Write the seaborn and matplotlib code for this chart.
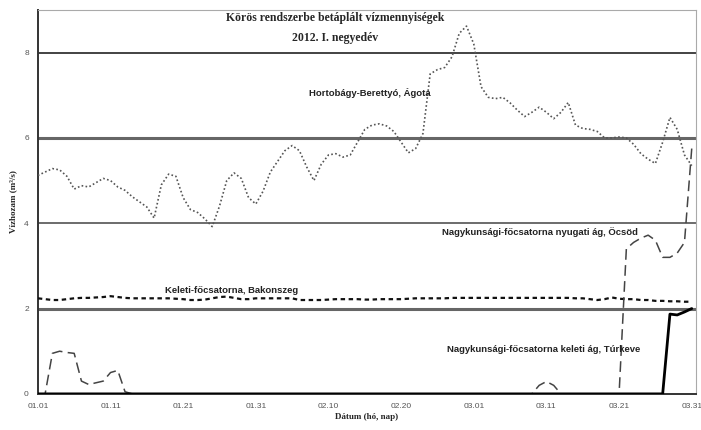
import numpy as np
import pandas as pd
import matplotlib
matplotlib.use('Agg')
import matplotlib.pyplot as plt
import seaborn as sns

# day index: 0 = 01.01, 90 = 03.31 (2012, leap year)
days = np.arange(91)
tick_days = [0, 10, 20, 30, 40, 50, 60, 70, 80, 90]
tick_labels = ['01.01', '01.11', '01.21', '01.31', '02.10', '02.20',
               '03.01', '03.11', '03.21', '03.31']

agota = [5.12, 5.2, 5.28, 5.25, 5.1, 4.8, 4.88, 4.85, 4.95, 5.05,
         5.0, 4.85, 4.77, 4.62, 4.5, 4.38, 4.12, 4.9, 5.15, 5.1,
         4.6, 4.32, 4.25, 4.1, 3.92, 4.4, 5.0, 5.18, 5.05, 4.6,
         4.45, 4.75, 5.2, 5.45, 5.7, 5.82, 5.7, 5.32, 5.0, 5.38,
         5.6, 5.63, 5.55, 5.6, 5.9, 6.2, 6.3, 6.33, 6.28, 6.15,
         5.9, 5.65, 5.75, 6.1, 7.5, 7.6, 7.65, 7.9, 8.45, 8.62,
         8.2, 7.2, 6.95, 6.92, 6.95, 6.82, 6.65, 6.5, 6.6, 6.72,
         6.6, 6.45, 6.6, 6.83, 6.3, 6.22, 6.2, 6.15, 6.0, 6.0,
         6.02, 6.0, 5.85, 5.63, 5.5, 5.4, 5.9, 6.48, 6.2, 5.6,
         5.35]

bakonszeg = [2.24, 2.22, 2.2, 2.2, 2.22, 2.24, 2.25, 2.25, 2.26, 2.27,
             2.29, 2.27, 2.25, 2.24, 2.24, 2.24, 2.24, 2.24, 2.24, 2.23,
             2.22, 2.2, 2.2, 2.21, 2.24, 2.27, 2.28, 2.25, 2.22, 2.22,
             2.24, 2.24, 2.24, 2.24, 2.24, 2.24, 2.2, 2.2, 2.2, 2.2,
             2.21, 2.22, 2.22, 2.22, 2.22, 2.21, 2.21, 2.22, 2.22, 2.22,
             2.22, 2.23, 2.24, 2.24, 2.24, 2.24, 2.24, 2.25, 2.25, 2.25,
             2.25, 2.25, 2.25, 2.25, 2.25, 2.25, 2.25, 2.25, 2.25, 2.25,
             2.25, 2.25, 2.25, 2.25, 2.24, 2.24, 2.22, 2.2, 2.22, 2.26,
             2.23, 2.22, 2.22, 2.2, 2.2, 2.18, 2.18, 2.17, 2.17, 2.16,
             2.16]

ocsod = [0, 0, 0.95, 1.0, 0.97, 0.95, 0.3, 0.22, 0.26, 0.3,
         0.5, 0.55, 0.05, 0, 0, 0, 0, 0, 0, 0,
         0, 0, 0, 0, 0, 0, 0, 0, 0, 0,
         0, 0, 0, 0, 0, 0, 0, 0, 0, 0,
         0, 0, 0, 0, 0, 0, 0, 0, 0, 0,
         0, 0, 0, 0, 0, 0, 0, 0, 0, 0,
         0, 0, 0, 0, 0, 0, 0, 0, 0, 0.2,
         0.29, 0.2, 0, 0, 0, 0, 0, 0, 0, 0,
         0, 3.4, 3.55, 3.65, 3.72, 3.6, 3.2, 3.2, 3.3, 3.55,
         5.75]

turkeve = [0] * 87 + [1.87, 1.85, 1.92, 2.0]

df = pd.DataFrame({'nap': days, 'agota': agota, 'bakonszeg': bakonszeg,
                   'ocsod': ocsod, 'turkeve': turkeve})

sns.set_style('white')
plt.rcParams['font.family'] = ['Liberation Sans', 'DejaVu Sans']

fig = plt.figure(figsize=(7.01, 4.30), dpi=100)
ax = fig.add_axes([0.054, 0.084, 0.939, 0.893])

# horizontal grid lines like the scanned chart
for yv, lw, col in [(2, 2.2, '#666666'), (4, 1.1, '#444444'),
                    (6, 2.2, '#666666'), (8, 1.2, '#222222')]:
    ax.axhline(yv, color=col, lw=lw, zorder=1)

sns.lineplot(data=df, x='nap', y='agota', ax=ax, color='#555555', lw=1.2,
             linestyle=(0, (1, 1.4)), zorder=3)
sns.lineplot(data=df, x='nap', y='bakonszeg', ax=ax, color='#111111', lw=1.6,
             linestyle=(0, (2, 1.6)), zorder=3)
sns.lineplot(data=df, x='nap', y='ocsod', ax=ax, color='#444444', lw=1.1,
             linestyle=(0, (7, 3.5)), zorder=3)
sns.lineplot(data=df, x='nap', y='turkeve', ax=ax, color='black', lw=2.0,
             zorder=4)

ax.set_xlim(0, 90.6)
ax.set_ylim(0, 9)
ax.set_xticks(tick_days)
ax.set_xticklabels(tick_labels)
ax.set_yticks([0, 2, 4, 6, 8])
ax.tick_params(axis='both', labelsize=6.0, colors='#333333', length=3,
               direction='out', width=0.8)
ax.tick_params(axis='both', labelcolor='#555555')
for side in ['top', 'right']:
    ax.spines[side].set_color('#aaaaaa')
    ax.spines[side].set_linewidth(0.8)
for side in ['left', 'bottom']:
    ax.spines[side].set_color('#333333')
    ax.spines[side].set_linewidth(1.4)

ax.set_xlabel('Dátum (hó, nap)', fontsize=6.5, fontweight='bold',
              family=['Liberation Serif', 'DejaVu Serif'], labelpad=2)
ax.set_ylabel('Vízhozam (m³/s)', fontsize=6.5, fontweight='bold',
              family=['Liberation Serif', 'DejaVu Serif'], labelpad=5)

ax.text(40.9, 8.8, 'Körös rendszerbe betáplált vízmennyiségek', ha='center',
        va='center', fontsize=8.5, fontweight='bold',
        family=['Liberation Serif', 'DejaVu Serif'])
ax.text(40.9, 8.33, '2012. I. negyedév', ha='center', va='center',
        fontsize=8.5, fontweight='bold',
        family=['Liberation Serif', 'DejaVu Serif'])

lab = dict(ha='center', va='center', fontsize=6.8, fontweight='bold',
           color='#222222')
ax.text(45.7, 7.06, 'Hortobágy-Berettyó, Ágota', **lab)
ax.text(26.7, 2.43, 'Keleti-főcsatorna, Bakonszeg', **lab)
ax.text(69.1, 3.8, 'Nagykunsági-főcsatorna nyugati ág, Öcsöd', **lab)
ax.text(69.6, 1.03, 'Nagykunsági-főcsatorna keleti ág, Túrkeve', **lab)

fig.savefig('out.png', dpi=100)
